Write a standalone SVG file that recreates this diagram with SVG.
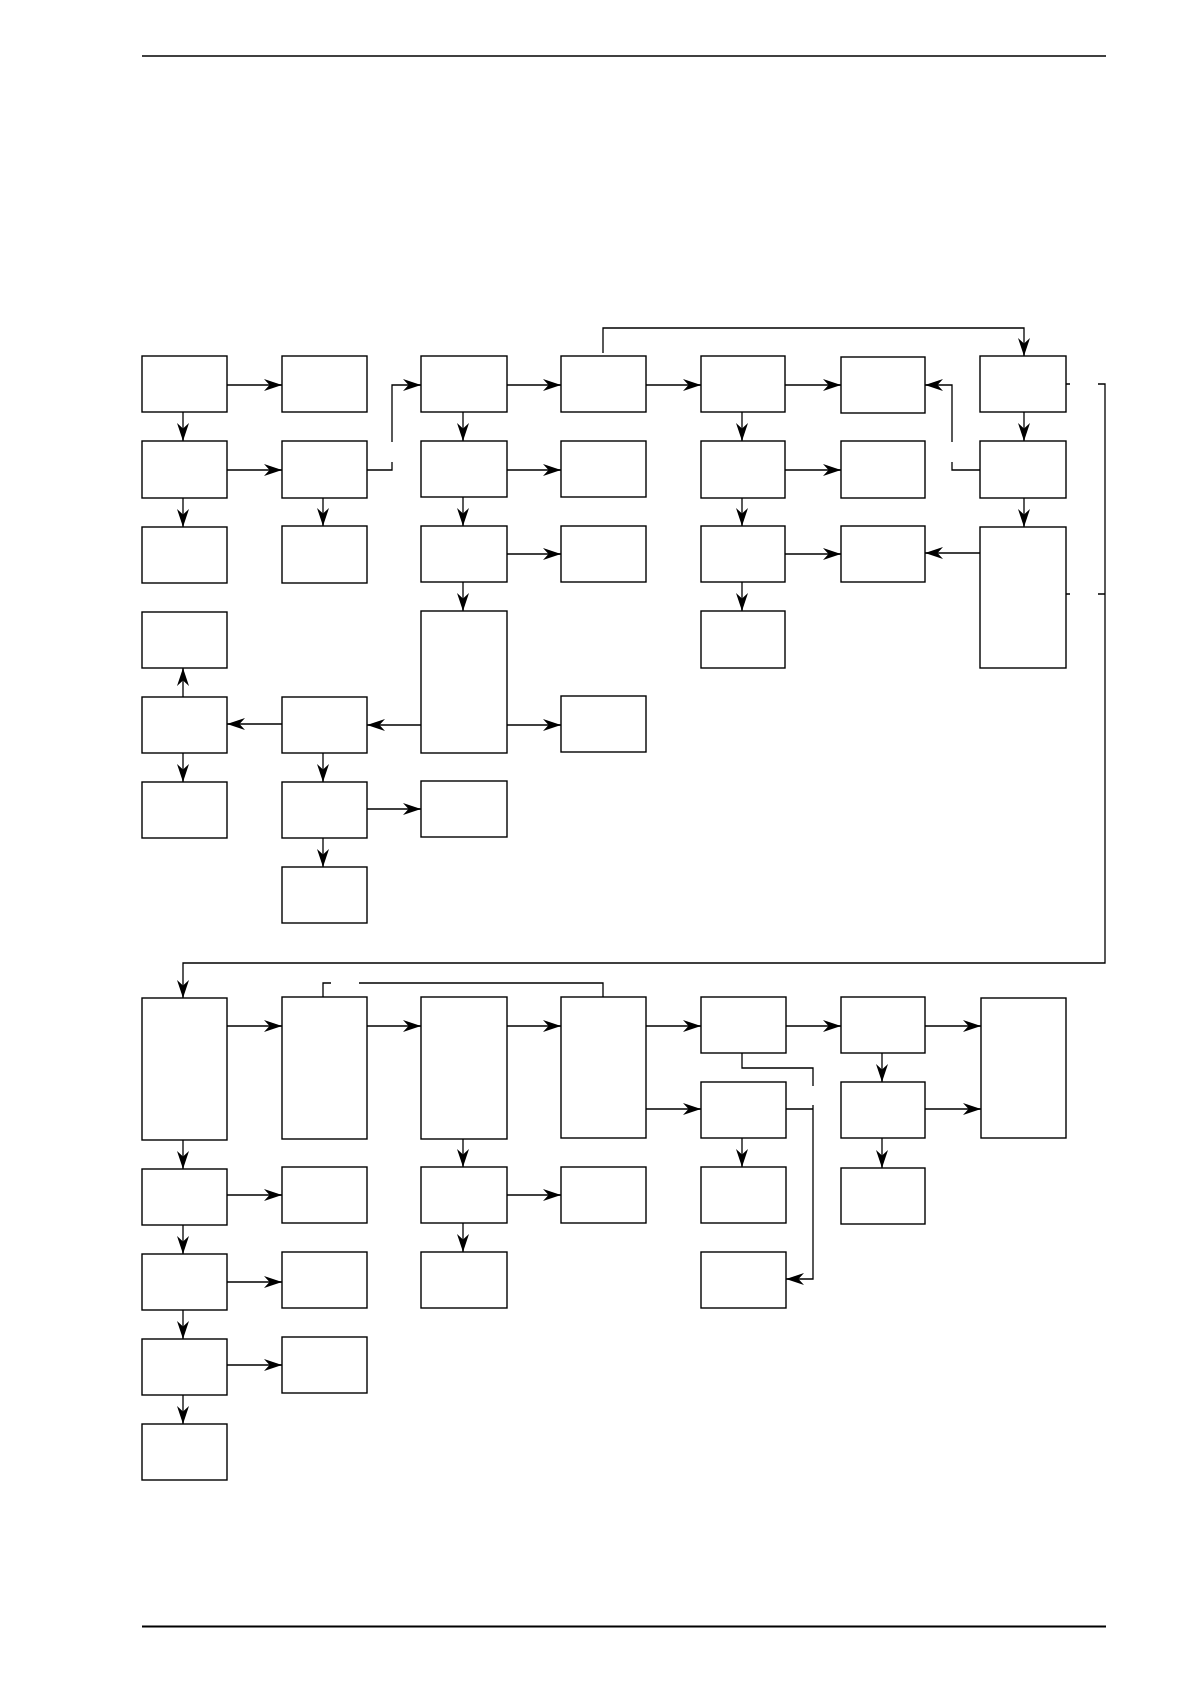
<svg xmlns="http://www.w3.org/2000/svg" width="1190" height="1684" viewBox="0 0 1190 1684">
<style>
.n rect{fill:#fff;stroke:#000;stroke-width:1.4}
.c path{fill:none;stroke:#000;stroke-width:1.3}
.a{marker-end:url(#ah)}
</style>
<defs>
<marker id="ah" markerUnits="userSpaceOnUse" markerWidth="20" markerHeight="14" refX="18" refY="6" orient="auto">
<path d="M0,0 L18,6 L0,12 L5.5,6 Z" fill="#000"/>
</marker>
</defs>
<rect width="1190" height="1684" fill="#fff"/>
<line x1="142" y1="56" x2="1106" y2="56" stroke="#000" stroke-width="1.3"/>
<line x1="142" y1="1626.5" x2="1106" y2="1626.5" stroke="#000" stroke-width="2.2"/>

<g class="n" id="n1"><rect x="142" y="356" width="85" height="56"/></g>
<g class="n" id="n2"><rect x="142" y="441" width="85" height="57"/></g>
<g class="n" id="n3"><rect x="142" y="527" width="85" height="56"/></g>
<g class="n" id="n4"><rect x="142" y="612" width="85" height="56"/></g>
<g class="n" id="n5"><rect x="142" y="697" width="85" height="56"/></g>
<g class="n" id="n6"><rect x="142" y="782" width="85" height="56"/></g>
<g class="n" id="n7"><rect x="282" y="356" width="85" height="56"/></g>
<g class="n" id="n8"><rect x="282" y="441" width="85" height="57"/></g>
<g class="n" id="n9"><rect x="282" y="526" width="85" height="57"/></g>
<g class="n" id="n10"><rect x="282" y="697" width="85" height="56"/></g>
<g class="n" id="n11"><rect x="282" y="782" width="85" height="56"/></g>
<g class="n" id="n12"><rect x="282" y="867" width="85" height="56"/></g>
<g class="n" id="n13"><rect x="421" y="356" width="86" height="56"/></g>
<g class="n" id="n14"><rect x="421" y="441" width="86" height="56"/></g>
<g class="n" id="n15"><rect x="421" y="526" width="86" height="56"/></g>
<g class="n" id="n16"><rect x="421" y="611" width="86" height="142"/></g>
<g class="n" id="n17"><rect x="421" y="781" width="86" height="56"/></g>
<g class="n" id="n18"><rect x="561" y="356" width="85" height="56"/></g>
<g class="n" id="n19"><rect x="561" y="441" width="85" height="56"/></g>
<g class="n" id="n20"><rect x="561" y="526" width="85" height="56"/></g>
<g class="n" id="n21"><rect x="561" y="696" width="85" height="56"/></g>
<g class="n" id="n22"><rect x="701" y="356" width="84" height="56"/></g>
<g class="n" id="n23"><rect x="701" y="441" width="84" height="57"/></g>
<g class="n" id="n24"><rect x="701" y="526" width="84" height="56"/></g>
<g class="n" id="n25"><rect x="701" y="611" width="84" height="57"/></g>
<g class="n" id="n26"><rect x="841" y="357" width="84" height="56"/></g>
<g class="n" id="n27"><rect x="841" y="441" width="84" height="57"/></g>
<g class="n" id="n28"><rect x="841" y="526" width="84" height="56"/></g>
<g class="n" id="n29"><rect x="980" y="356" width="86" height="56"/></g>
<g class="n" id="n30"><rect x="980" y="441" width="86" height="57"/></g>
<g class="n" id="n31"><rect x="980" y="527" width="86" height="141"/></g>

<g class="n" id="b1"><rect x="142" y="998" width="85" height="142"/></g>
<g class="n" id="b2"><rect x="142" y="1169" width="85" height="56"/></g>
<g class="n" id="b3"><rect x="142" y="1254" width="85" height="56"/></g>
<g class="n" id="b4"><rect x="142" y="1339" width="85" height="56"/></g>
<g class="n" id="b5"><rect x="142" y="1424" width="85" height="56"/></g>
<g class="n" id="b6"><rect x="282" y="997" width="85" height="142"/></g>
<g class="n" id="b7"><rect x="282" y="1167" width="85" height="56"/></g>
<g class="n" id="b8"><rect x="282" y="1252" width="85" height="56"/></g>
<g class="n" id="b9"><rect x="282" y="1337" width="85" height="56"/></g>
<g class="n" id="b10"><rect x="421" y="997" width="86" height="142"/></g>
<g class="n" id="b11"><rect x="421" y="1167" width="86" height="56"/></g>
<g class="n" id="b12"><rect x="421" y="1252" width="86" height="56"/></g>
<g class="n" id="b13"><rect x="561" y="997" width="85" height="141"/></g>
<g class="n" id="b14"><rect x="561" y="1167" width="85" height="56"/></g>
<g class="n" id="b15"><rect x="701" y="997" width="85" height="56"/></g>
<g class="n" id="b16"><rect x="701" y="1082" width="85" height="56"/></g>
<g class="n" id="b17"><rect x="701" y="1167" width="85" height="56"/></g>
<g class="n" id="b18"><rect x="701" y="1252" width="85" height="56"/></g>
<g class="n" id="b19"><rect x="841" y="997" width="84" height="56"/></g>
<g class="n" id="b20"><rect x="841" y="1082" width="84" height="56"/></g>
<g class="n" id="b21"><rect x="841" y="1168" width="84" height="56"/></g>
<g class="n" id="b22"><rect x="981" y="998" width="85" height="140"/></g>

<g class="c" id="connectors">
<path class="a" d="M227,385 H282"/>
<path class="a" d="M183,412 V441"/>
<path class="a" d="M227,470 H282"/>
<path class="a" d="M183,498 V527"/>
<path class="a" d="M323,498 V526"/>
<path d="M367,470 H392 V462"/>
<path class="a" d="M392,442 V385 H421"/>
<path class="a" d="M507,385 H561"/>
<path class="a" d="M463,412 V441"/>
<path class="a" d="M507,470 H561"/>
<path class="a" d="M463,497 V526"/>
<path class="a" d="M507,554 H561"/>
<path class="a" d="M463,582 V611"/>
<path class="a" d="M421,725 H367"/>
<path class="a" d="M507,725 H561"/>
<path class="a" d="M282,724 H227"/>
<path class="a" d="M183,697 V668"/>
<path class="a" d="M183,753 V782"/>
<path class="a" d="M323,753 V782"/>
<path class="a" d="M367,809 H421"/>
<path class="a" d="M323,838 V867"/>
<path class="a" d="M646,385 H701"/>
<path class="a" d="M785,385 H841"/>
<path class="a" d="M742,412 V441"/>
<path class="a" d="M785,470 H841"/>
<path class="a" d="M742,498 V526"/>
<path class="a" d="M785,554 H841"/>
<path class="a" d="M742,582 V611"/>
<path class="a" d="M603,353 V328 H1024 V356"/>
<path class="a" d="M1024,412 V441"/>
<path class="a" d="M1024,498 V527"/>
<path d="M980,470 H952 V462"/>
<path class="a" d="M952,442 V385 H925"/>
<path class="a" d="M980,553 H925"/>
<path d="M1066,384 H1070 M1066,594 H1070 M1098,594 H1105"/>
<path class="a" d="M1098,384 H1105 V963 H183 V998"/>

<path class="a" d="M227,1026 H282"/>
<path class="a" d="M183,1140 V1169"/>
<path class="a" d="M227,1195 H282"/>
<path class="a" d="M183,1225 V1254"/>
<path class="a" d="M227,1282 H282"/>
<path class="a" d="M183,1310 V1339"/>
<path class="a" d="M227,1365 H282"/>
<path class="a" d="M183,1395 V1424"/>
<path class="a" d="M367,1026 H421"/>
<path class="a" d="M507,1026 H561"/>
<path class="a" d="M463,1139 V1167"/>
<path class="a" d="M507,1195 H561"/>
<path class="a" d="M463,1223 V1252"/>
<path class="a" d="M646,1026 H701"/>
<path class="a" d="M646,1109 H701"/>
<path class="a" d="M742,1138 V1167"/>
<path d="M742,1053 V1068 H813 V1086 M786,1109 H813"/>
<path class="a" d="M813,1105 V1279 H786"/>
<path class="a" d="M786,1026 H841"/>
<path class="a" d="M882,1053 V1082"/>
<path class="a" d="M882,1138 V1168"/>
<path class="a" d="M925,1026 H981"/>
<path class="a" d="M925,1109 H981"/>
<path d="M603,997 V983 H359 M331,983 H323 V997"/>
</g>
</svg>
